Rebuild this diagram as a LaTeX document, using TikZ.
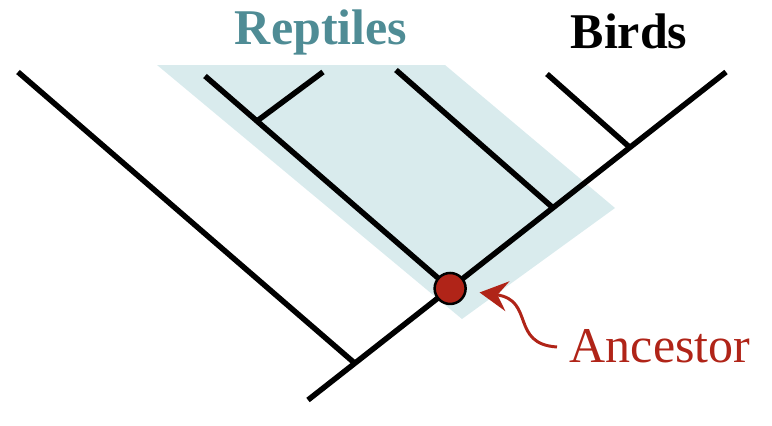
\documentclass[tikz,border=0pt]{standalone}
\usepackage{fontspec}
\setmainfont{Liberation Serif}
\usetikzlibrary{calc,arrows.meta}
\definecolor{cladeblue}{HTML}{D9EBED}
\definecolor{repteal}{HTML}{4F8C95}
\definecolor{ancred}{HTML}{B02418}
\tikzset{
  branch/.style={line width=5.5pt, line cap=butt},
  biglabel/.style={font=\fontsize{50}{56}\selectfont, inner sep=0pt, anchor=base},
}
\begin{document}
\begin{tikzpicture}[x=1pt,y=-1pt]
\useasboundingbox (0,0) rectangle (772,426);
% shaded clade
\fill[cladeblue] (157,65) -- (445,65) -- (615,208) -- (462,319) -- cycle;
% trunk
\coordinate (root) at (308,400);
\coordinate (top) at (726,72);
\coordinate (n1) at ($(root)!0.112!(top)$);
\coordinate (n3) at ($(root)!0.586!(top)$);
\coordinate (n4) at ($(root)!0.770!(top)$);
\coordinate (ancpt) at ($(root)!0.340!(top)$);
\coordinate (leaf1) at (18,72);
\coordinate (leaf2) at (205,76);
\coordinate (leaf3) at (323,72);
\coordinate (leaf4) at (396,70);
\coordinate (leaf5) at (547,74);
\coordinate (n2) at ($(leaf2)!0.212!(ancpt)$);
\draw[branch] (root) -- (top);
\draw[branch] (leaf1) -- (n1);
\draw[branch] (leaf2) -- (ancpt);
\draw[branch] (leaf3) -- (n2);
\draw[branch] (leaf4) -- (n3);
\draw[branch] (leaf5) -- (n4);
% ancestor
\node[circle, fill=ancred, draw=black, line width=2.5pt, minimum size=31pt, inner sep=0pt] (anc) at (ancpt) {};
% labels
\node[biglabel, text=repteal] (rept) at (321,44) {\bfseries Reptiles};
\node[biglabel] (birds) at (629,48) {\bfseries Birds};
\node[biglabel, text=ancred] (anclab) at (660,362) {Ancestor};
\coordinate (astart) at (557,347);
\draw[ancred, line width=3pt, -{Stealth[length=28pt, width=30pt, inset=10pt]}, shorten >=13pt]
  (astart) .. controls (510,344) and (535,300) .. (anc);
\end{tikzpicture}
\end{document}
